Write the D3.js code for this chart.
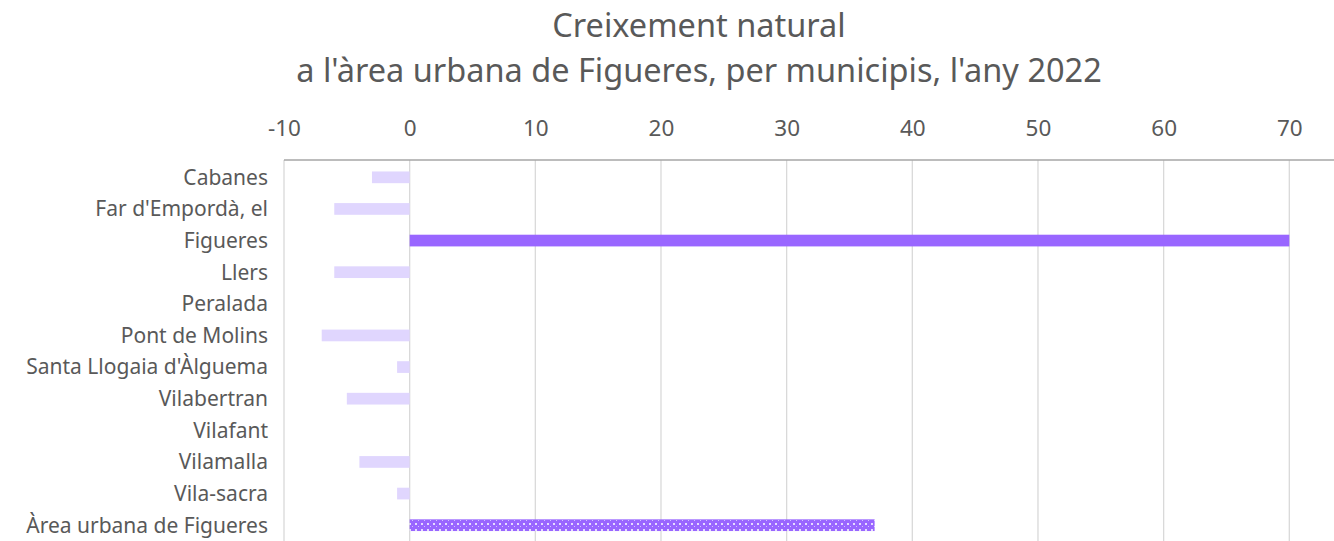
<!DOCTYPE html>
<html>
<head>
<meta charset="utf-8">
<script src="https://cdn.jsdelivr.net/npm/d3@7"></script>
<style>
  body { margin: 0; background: #fff; }
  text { font-family: "Noto Sans", "Open Sans", sans-serif; fill: #595959; }
</style>
</head>
<body>
<div id="chart"></div>
<script>

var municipis = ["Cabanes", "Far d'Empordà, el", "Figueres", "Llers", "Peralada",
  "Pont de Molins", "Santa Llogaia d'Àlguema", "Vilabertran", "Vilafant",
  "Vilamalla", "Vila-sacra", "Àrea urbana de Figueres"];
var creixement = [-3, -6, 70, -6, 0, -7, -1, -5, 0, -4, -1, 37];
var xTicks = [-10, 0, 10, 20, 30, 40, 50, 60, 70];
var titol1 = "Creixement natural";
var titol2 = "a l'àrea urbana de Figueres, per municipis, l'any 2022";

var width = 1334, height = 541;
var margin = {top: 160, right: 0, bottom: 0, left: 284};

var data = municipis.map(function(m, i) { return {name: m, value: creixement[i]}; });

var svg = d3.select("#chart").append("svg")
  .attr("width", width)
  .attr("height", height);

// pattern for the total bar
var defs = svg.append("defs");
var pat = defs.append("pattern")
  .attr("id", "quadres")
  .attr("width", 6).attr("height", 6)
  .attr("patternUnits", "userSpaceOnUse");
pat.append("rect").attr("width", 6).attr("height", 6).attr("fill", "#9966ff");
pat.append("rect").attr("x", 1).attr("y", 1).attr("width", 2).attr("height", 2).attr("fill", "#e6dcff");
pat.append("rect").attr("x", 4).attr("y", 4).attr("width", 1).attr("height", 1).attr("fill", "#d4c2ff");

var x = d3.scaleLinear().domain([-10, 70])
  .range([margin.left, 1289.3]);

var y = d3.scaleBand().domain(municipis)
  .range([margin.top + 1.5, height - margin.bottom])
  .paddingInner(0.63).paddingOuter(0.315);

// gridlines
svg.append("g").selectAll("line")
  .data(xTicks)
  .enter().append("line")
  .attr("x1", function(d) { return x(d); })
  .attr("x2", function(d) { return x(d); })
  .attr("y1", margin.top)
  .attr("y2", height)
  .attr("stroke", "#d9d9d9")
  .attr("stroke-width", 1.3);

// bars
svg.append("g").selectAll("rect")
  .data(data)
  .enter().append("rect")
  .attr("x", function(d) { return x(Math.min(0, d.value)); })
  .attr("width", function(d) { return Math.abs(x(d.value) - x(0)); })
  .attr("y", function(d) { return y(d.name); })
  .attr("height", y.bandwidth())
  .attr("fill", function(d, i) {
    if (i == data.length - 1) return "url(#quadres)";
    if (d.value > 0) return "#9966ff";
    return "#e0d6fe";
  });

// top axis
var xAxis = d3.axisTop(x).tickValues(xTicks).tickSize(0).tickPadding(24)
  .tickFormat(function(d) { return String(d); });
var gx = svg.append("g")
  .attr("transform", "translate(0," + margin.top + ")")
  .call(xAxis);
gx.select(".domain").remove();
gx.append("line")
  .attr("x1", margin.left).attr("x2", width)
  .attr("stroke", "#a6a6a6").attr("stroke-width", 1.5);
gx.selectAll("text")
  .style("font-size", "22.5px")
  .attr("fill", "#595959");

// category labels
svg.append("g").selectAll("text.cat")
  .data(municipis)
  .enter().append("text")
  .attr("class", "cat")
  .attr("x", 268)
  .attr("y", function(d) { return y(d) + y.bandwidth() / 2; })
  .attr("dy", "0.35em")
  .attr("text-anchor", "end")
  .style("font-size", "21px")
  .text(function(d) { return d; });

// titles
svg.append("text")
  .attr("x", 699).attr("y", 37)
  .attr("text-anchor", "middle")
  .style("font-size", "32.5px")
  .text(titol1);
svg.append("text")
  .attr("x", 699).attr("y", 82)
  .attr("text-anchor", "middle")
  .style("font-size", "32.5px")
  .text(titol2);

</script>
</body>
</html>
